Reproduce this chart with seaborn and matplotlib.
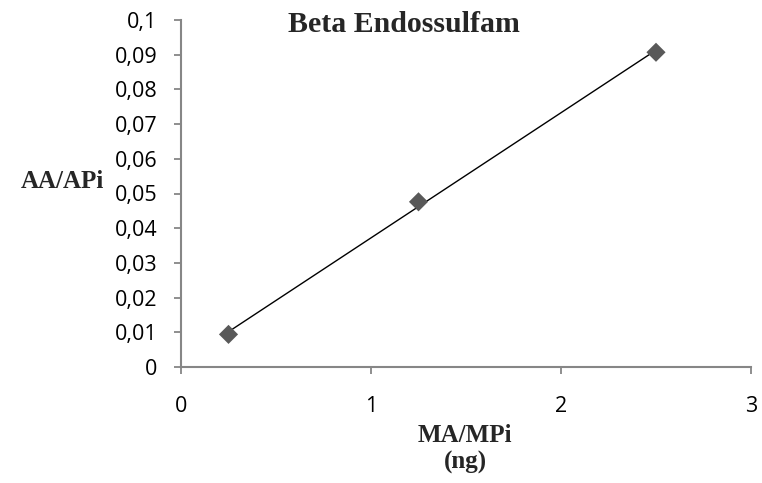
import matplotlib
matplotlib.use("Agg")
import matplotlib.pyplot as plt
import seaborn as sns
import pandas as pd

x_values = [0.25, 1.25, 2.5]
y_values = [0.0094, 0.0476, 0.0907]
x_ticks = [0, 1, 2, 3]
x_tick_labels = ["0", "1", "2", "3"]
y_ticks = [0, 0.01, 0.02, 0.03, 0.04, 0.05, 0.06, 0.07, 0.08, 0.09, 0.1]
y_tick_labels = ["0", "0,01", "0,02", "0,03", "0,04", "0,05", "0,06", "0,07", "0,08", "0,09", "0,1"]

df = pd.DataFrame({"x": x_values, "y": y_values})

sns.set_theme(style="white")
plt.rcParams["font.family"] = ["Open Sans", "DejaVu Sans"]

fig = plt.figure(figsize=(7.62, 4.83), dpi=100)
ax = fig.add_axes([181/762, 1-367/483, (751-181)/762, (367-20)/483])

sns.regplot(data=df, x="x", y="y", ax=ax, ci=None, truncate=True,
            marker="D",
            scatter_kws=dict(s=95, color="#595959", edgecolors="none", zorder=3, alpha=1),
            line_kws=dict(color="black", linewidth=1.0, zorder=2))

ax.set_xlim(0, 3)
ax.set_ylim(0, 0.1)
ax.set_xticks(x_ticks)
ax.set_xticklabels(x_tick_labels)
ax.set_yticks(y_ticks)
ax.set_yticklabels(y_tick_labels)
ax.set_xlabel("")
ax.set_ylabel("")

for s in ["top", "right"]:
    ax.spines[s].set_visible(False)
for s in ["left", "bottom"]:
    ax.spines[s].set_color("#868686")
    ax.spines[s].set_linewidth(1.5)

ax.tick_params(axis="both", which="major", direction="out", length=5,
               width=1.3, color="#868686", labelcolor="black", labelsize=15.5)
ax.tick_params(axis="x", pad=16, bottom=True)
ax.tick_params(axis="y", pad=12, left=True)
ax.xaxis.set_ticks_position("bottom")
ax.yaxis.set_ticks_position("left")

serif = ["Liberation Serif", "DejaVu Serif"]
fig.text(404/762, 1-24/483, "Beta Endossulfam", ha="center", va="center",
         fontsize=21.5, fontweight="bold", family=serif)
fig.text(62/762, 1-182/483, "AA/APi", ha="center", va="center",
         fontsize=18, fontweight="bold", family=serif)
fig.text(465/762, 1-436/483, "MA/MPi", ha="center", va="center",
         fontsize=18, fontweight="bold", family=serif)
fig.text(465/762, 1-462/483, "(ng)", ha="center", va="center",
         fontsize=18, fontweight="bold", family=serif)

fig.savefig("out.png", dpi=100, facecolor="white")
